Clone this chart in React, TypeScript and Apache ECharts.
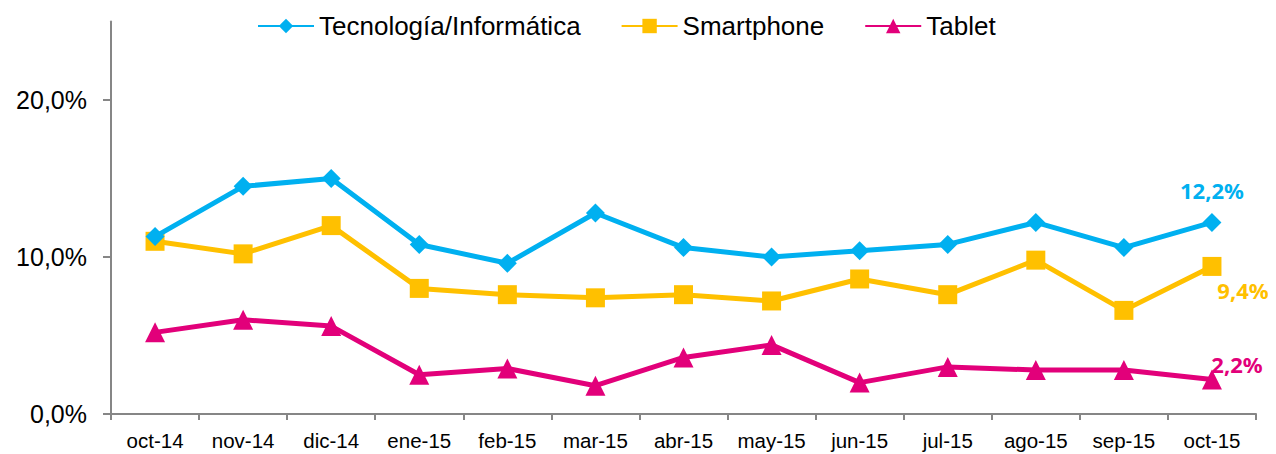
import React, { useEffect, useRef } from "react";
import * as echarts from "echarts";

const categories = ["oct-14", "nov-14", "dic-14", "ene-15", "feb-15", "mar-15", "abr-15", "may-15", "jun-15", "jul-15", "ago-15", "sep-15", "oct-15"];
const tecnologia = [11.3, 14.5, 15.0, 10.8, 9.6, 12.8, 10.6, 10.0, 10.4, 10.8, 12.2, 10.6, 12.2];
const smartphone = [11.0, 10.2, 12.0, 8.0, 7.6, 7.4, 7.6, 7.2, 8.6, 7.6, 9.8, 6.6, 9.4];
const tablet = [5.2, 6.0, 5.6, 2.5, 2.9, 1.8, 3.6, 4.4, 2.0, 3.0, 2.8, 2.8, 2.2];
const yTicks = [0, 10, 20];

const fmt = (v: number) => v.toFixed(1).replace(".", ",") + "%";

function withLastLabel(values: number[], color: string, offset: number[]) {
  return values.map((v, i) =>
    i === values.length - 1
      ? {
          value: v,
          label: {
            show: true,
            position: "inside",
            offset,
            formatter: () => fmt(v),
            color,
            fontFamily: "Noto Sans",
            fontWeight: "bold",
            fontSize: 22,
          },
        }
      : v
  );
}

export default function App() {
  const ref = useRef<HTMLDivElement>(null);
  useEffect(() => {
    if (!ref.current) return;
    document.documentElement.style.overflow = "hidden";
    document.body.style.overflow = "hidden";
    const chart = echarts.init(ref.current, null, { renderer: "svg" });
    const axisColor = "#868686";
    chart.setOption({
      animation: false,
      legend: {
        top: 0,
        left: 244,
        itemWidth: 56,
        itemHeight: 18,
        itemGap: 40,
        textStyle: { fontFamily: "Liberation Sans", fontSize: 26, color: "#000" },
        data: ["Tecnología/Informática", "Smartphone", "Tablet"],
      },
      grid: { left: 103, right: 12, top: 13.5, bottom: 40, containLabel: false, outerBoundsMode: "none" },
      xAxis: {
        type: "category",
        data: categories,
        boundaryGap: true,
        axisLine: { lineStyle: { color: axisColor, width: 2 } },
        axisTick: { show: true, length: 6, lineStyle: { color: axisColor, width: 2 } },
        axisLabel: { fontFamily: "Liberation Sans", fontSize: 20.5, color: "#000", margin: 16, interval: 0 },
      },
      yAxis: {
        type: "value",
        min: 0,
        max: 25,
        splitLine: { show: false },
        axisLine: { show: true, lineStyle: { color: axisColor, width: 2 } },
        axisTick: { show: true, length: 8, customValues: yTicks, lineStyle: { color: axisColor, width: 2 } },
        axisLabel: {
          customValues: yTicks,
          formatter: (v: number) => fmt(v),
          fontFamily: "Liberation Sans",
          fontSize: 25,
          color: "#000",
          margin: 24,
        },
      },
      series: [
        {
          name: "Tecnología/Informática",
          type: "line",
          data: withLastLabel(tecnologia, "#00B0F0", [0, -32]),
          color: "#00B0F0",
          lineStyle: { width: 5 },
          symbol: "diamond",
          symbolSize: 19,
          z: 3,
        },
        {
          name: "Smartphone",
          type: "line",
          data: withLastLabel(smartphone, "#FFC000", [31, 24]),
          color: "#FFC000",
          lineStyle: { width: 5 },
          symbol: "rect",
          symbolSize: 19,
          z: 2,
        },
        {
          name: "Tablet",
          type: "line",
          data: withLastLabel(tablet, "#E2007A", [25, -15]),
          color: "#E2007A",
          lineStyle: { width: 5 },
          symbol: "triangle",
          symbolSize: 20,
          z: 1,
        },
      ],
    });
    return () => chart.dispose();
  }, []);
  return <div ref={ref} style={{ width: 1260, height: 446 }} />;
}
